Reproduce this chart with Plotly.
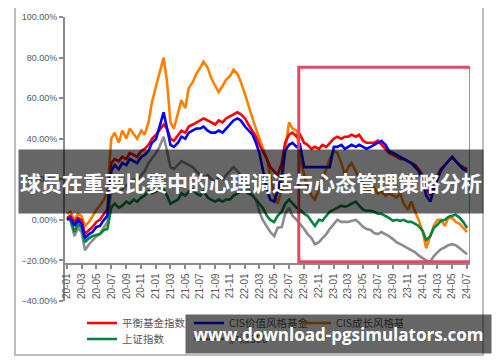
import pandas as pd
import plotly.graph_objects as go

dates = pd.date_range("2020-01-01", periods=109, freq="SMS")

balanced = [1,2,-1,1,0,-7,-5,-3.5,-1,0,3,5,
            28,30,29,31,30,33,32,31,34,35,37,40,
            42,44,47,45,40,39,42,44,43,46,47,48,
            49,50,49,48,47,49,48,50,51,52,53,52,
            50,47,44,41,37,34,30,26,24,22,28,38,
            42,43,41,42,38,37,35,36,35,37,36,38,
            40,41,40,41,41,42,41,42,39,38,38,38,
            39,37,35,33,32,31,30,30,29,28,27,25,
            22,16,12,18,22,25,27,29,31,29,27,26,
            25]
value = [0,1,-3,0,-2,-9,-7,-6,-3.5,-3,0,2,
         24,27,25,28,27,30,29,28,31,32,34,38,
         40,46,53,45,37,36,38,41,40,43,44,45,
         45,46,44,43,43,44,43,45,47,49,50,49,
         46,44,42,38,33,25,15,10,9,14,22,34,
         37,38,36,37,26,26,26,26,26,26,26,26,
         36,36,37,35,36,37,36,37,36,35,36,37,
         38,39,37,34,33,32,31,30,29,28,26,24,
         20,12,9,15,20,24,27,29,31,29,27,25,
         24]
growth = [3,4,0,3,2,-3,-1,2,5,7,10,14,
          40,43,38,44,40,45,42,40,44,42,48,58,
          66,72,80,68,48,45,52,59,55,65,68,72,
          75,78,75,70,66,63,66,69,71,74,72,68,
          62,56,50,45,40,36,30,22,12,8,15,35,
          48,45,44,30,22,16,12,10,15,20,26,30,
          34,33,28,22,26,28,24,20,18,15,14,16,
          13,14,12,13,12,11,13,8,5,9,4,0,
          -6,-14,-8,-3,0,0,-3,1,1,-1,-2,-4,
          -6]
shanghai = [1,0,-6,-2,-4,-11,-9,-8,-7.5,-7,-5,-4.5,
            6,8,6,7,9,8,10,9,11,12,14,13,
            14,15,15,12,8,9,10,13,12,14,15,13,
            12,14,11,10,9,10,9,10,10,12,13,14,
            15,13,12,10,8,6,2,0,-1,2,4,8,
            10,8,6,5,3,2,-1,-3,0,-0.5,2,4,
            5,6,7,6.5,7,8,9,7,5,4.5,4.5,4,
            3,3,2,1,-0.5,0,-0.5,0,-1,-1,-2,-3,
            -5.5,-10,-8,-4,-2.5,-0.5,0,1.5,2,2.5,1,-1,
            -4]
hs300 = [1,0,-8,-4,-6,-15,-12,-10,-8,-7,-4,-1,
         14,16,14,15,17,18,20,19,22,24,28,30,
         33,36,41,34,26,25,27,29,28,27,26,24,
         22,21,22,20,19,21,20,22,24,26,24,22,
         18,15,12,10,4,0,-3,-6,-8,-4,-3.5,3,
         6,2,0,-2,-4.5,-7,-9,-12,-11,-9,-7,-4.5,
         -2,0,-1,-1,-1,-0.5,0,-1.5,-3.5,-4.5,-5,-6.5,
         -7,-6,-7,-8,-9.5,-11,-12,-13,-14,-15,-16,-17.5,
         -19,-20,-20.5,-18,-16,-14.5,-13.5,-12.5,-12,-12.5,-14,-15.5,
         -17]

names = ["平衡基金指数", "CIS价值风格基金", "CIS成长风格基金", "上证指数", "沪深300"]
colors = ["#ff0000", "#0000ff", "#ff8000", "#00853f", "#8c8c8c"]
series = [balanced, value, growth, shanghai, hs300]
legends = ["legend", "legend", "legend", "legend2", "legend2"]
draw_order = [4, 2, 3, 0, 1]

title_text = "球员在重要比赛中的心理调适与心态管理策略分析"
watermark = "www.download-pgsimulators.com"

# page body adds an 8px offset; target screen positions are converted below
OFF = 8
W, H = 500, 362
PLOT_L, PLOT_R, PLOT_T, PLOT_B = 65, 470, 17, 301  # screen pixels
L = PLOT_L - OFF
T = PLOT_T - OFF
R = W - (PLOT_R - OFF)
B = H - (PLOT_B - OFF)
PW, PH = W - L - R, H - T - B

def px(x):
    return (x - OFF - L) / PW

def py(y):
    return (H - B - (y - OFF)) / PH

fig = go.Figure()
for i in draw_order:
    fig.add_trace(go.Scatter(
        x=dates, y=series[i], mode="lines", name=names[i],
        line=dict(color=colors[i], width=2.6),
        legend=legends[i], legendrank=i + 1,
    ))

axis_col = "#8c8c8c"
tick_font = dict(family="Liberation Sans, Arial, sans-serif", size=9, color="#595959")
leg_font = dict(family="Noto Sans CJK SC, sans-serif", size=10.5, color="#595959")

fig.update_layout(
    width=W, height=H,
    margin=dict(l=L, r=R, t=T, b=B, autoexpand=False),
    paper_bgcolor="white", plot_bgcolor="white",
    showlegend=True,
    xaxis=dict(
        type="date", range=["2019-12-24", "2024-07-13"],
        anchor="free", position=(-22 + 40) / 140, automargin=False,
        showline=True, linecolor=axis_col, linewidth=2,
        ticks="outside", ticklen=4, tickcolor=axis_col, tickwidth=1.5,
        dtick="M2", tick0="2020-01-01", tickformat="%y-%m", tickangle=-90,
        showgrid=False, zeroline=False,
        tickfont=dict(family="Liberation Sans, Arial, sans-serif", size=10, color="#595959"),
    ),
    yaxis=dict(
        range=[-40, 100], dtick=20, tickformat=".2f", ticksuffix="%",
        automargin=False,
        showline=True, linecolor=axis_col, linewidth=2,
        ticks="outside", ticklen=4, tickcolor=axis_col, tickwidth=1.5,
        showgrid=False, zeroline=False, tickfont=tick_font,
    ),
    legend=dict(
        orientation="h", x=px(82), xanchor="left", y=py(323), yanchor="middle",
        entrywidth=62, entrywidthmode="pixels", bgcolor="rgba(0,0,0,0)",
        font=leg_font,
    ),
    legend2=dict(
        orientation="h", x=px(82), xanchor="left", y=py(339), yanchor="middle",
        entrywidth=62, entrywidthmode="pixels", bgcolor="rgba(0,0,0,0)",
        font=leg_font,
    ),
)

# outer frame
fig.add_shape(type="rect", xref="paper", yref="paper",
              x0=px(15), x1=px(483), y0=py(355), y1=py(5),
              line=dict(color="#bdbdbd", width=2), fillcolor="rgba(0,0,0,0)", layer="below")
# highlight box
fig.add_shape(type="rect", xref="x", yref="y",
              x0="2022-08-10", x1="2024-07-16", y0=-20.6, y1=75.2,
              line=dict(color="#e04a64", width=3), fillcolor="rgba(0,0,0,0)", layer="above")

# banner
fig.add_annotation(xref="paper", yref="paper", x=px(251), y=py(181.5),
                   xanchor="center", yanchor="middle", showarrow=False,
                   width=464, height=63, bgcolor="rgba(0,0,0,0.6)", borderpad=0,
                   text="<b>" + title_text + "</b>",
                   font=dict(family="Noto Sans CJK SC, sans-serif", size=21, color="white"))
# watermark
fig.add_annotation(xref="paper", yref="paper", x=px(338.5), y=py(334),
                   xanchor="center", yanchor="middle", showarrow=False,
                   width=305, height=38, bgcolor="rgba(0,0,0,0.6)", borderpad=0,
                   text="<b>" + watermark + "</b>",
                   font=dict(family="Open Sans, sans-serif", size=17, color="white"))

fig.write_html("out.html")
